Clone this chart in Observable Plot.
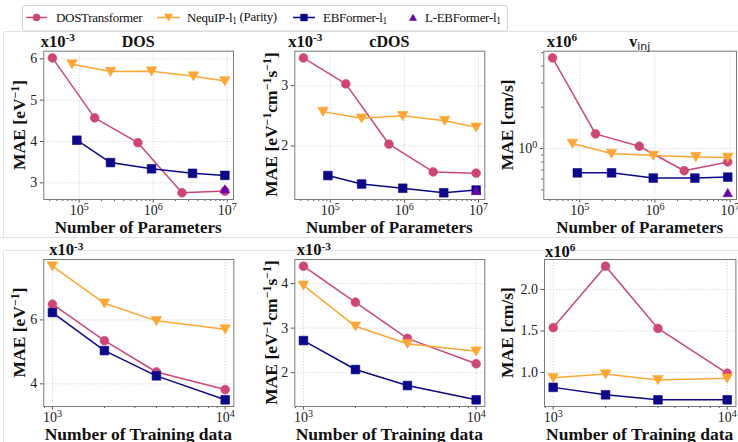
<!DOCTYPE html>
<html><head><meta charset="utf-8">
<script src="https://cdn.jsdelivr.net/npm/d3@7"></script>
<script src="https://cdn.jsdelivr.net/npm/@observablehq/plot@0.6"></script>
<style>
body{margin:0;background:#fff;}
#root{position:relative;width:738px;height:442px;overflow:hidden;font-family:"Liberation Serif",serif;background:#fff;}
#root svg{overflow:visible;}
</style></head><body><div id="root"></div>
<script>
// ---------- data ----------
const seriesNames = ["DOSTransformer", "NequIP-l", "EBFormer-l", "L-EBFormer-l"];
const seriesColors = ["#cc4778", "#fca636", "#0d0887", "#6a00a8"];

// number of parameters (top row x values)
const paramsDOST   = [4.35e4, 1.62e5, 6.2e5, 2.45e6, 9.3e6];
const paramsNequIP = [8.0e4, 2.65e5, 9.5e5, 3.5e6, 9.3e6];
const paramsEB     = [9.3e4, 2.65e5, 9.5e5, 3.4e6, 9.3e6];
const paramsLEB    = [9.3e6];
// number of training data (bottom row x values)
const trainSizes   = [1000, 2000, 4000, 10000];

// DOS (x1e-3 eV^-1) vs parameters
const dosParDOST   = [6.02, 4.57, 3.97, 2.76, 2.80];
const dosParNequIP = [5.87, 5.69, 5.70, 5.58, 5.46];
const dosParEB     = [4.03, 3.49, 3.34, 3.23, 3.18];
const dosParLEB    = [2.85];
// cDOS (x1e-3) vs parameters
const cdosParDOST   = [3.46, 3.03, 2.03, 1.57, 1.55];
const cdosParNequIP = [2.57, 2.46, 2.50, 2.42, 2.31];
const cdosParEB     = [1.51, 1.37, 1.30, 1.225, 1.27];
const cdosParLEB    = [1.26];
// v_inj (x1e6 cm/s) vs parameters
const vinjParDOST   = [4.57, 1.28, 1.04, 0.69, 0.80];
const vinjParNequIP = [1.09, 0.92, 0.89, 0.87, 0.86];
const vinjParEB     = [0.666, 0.666, 0.61, 0.61, 0.62];
const vinjParLEB    = [0.477];

// vs training data
const dosTrDOST    = [6.49, 5.35, 4.37, 3.82];
const dosTrNequIP  = [7.68, 6.52, 5.97, 5.71];
const dosTrEB      = [6.23, 5.04, 4.25, 3.50];
const cdosTrDOST   = [4.39, 3.58, 2.77, 2.20];
const cdosTrNequIP = [3.96, 3.04, 2.65, 2.48];
const cdosTrEB     = [2.72, 2.07, 1.71, 1.39];
const vinjTrDOST   = [1.54, 2.28, 1.53, 0.99];
const vinjTrNequIP = [0.935, 0.98, 0.91, 0.93];
const vinjTrEB     = [0.82, 0.73, 0.67, 0.67];

// tick values / labels
const paramTicks = [1e5, 1e6, 1e7];
const trainTicks = [1e3, 1e4];
const dosParYTicks = [3, 4, 5, 6];
const cdosParYTicks = [2, 3];
const vinjParYTicks = [1];
const vinjParYMinor = [0.5, 0.6, 0.7, 0.8, 0.9, 2, 3, 4, 5];
const dosTrYTicks = [4, 6];
const cdosTrYTicks = [2, 3, 4];
const vinjTrYTicks = [1.0, 1.5, 2.0];

// ---------- symbols ----------
const triDown = {draw(ctx, size){const a=Math.sqrt(size/Math.PI);ctx.moveTo(0,a);ctx.lineTo(-a*1.1,-a*0.9);ctx.lineTo(a*1.1,-a*0.9);ctx.closePath();}};
const triUp = {draw(ctx, size){const a=Math.sqrt(size/Math.PI);ctx.moveTo(0,-a);ctx.lineTo(-a*1.1,a*0.9);ctx.lineTo(a*1.1,a*0.9);ctx.closePath();}};
const symbols = ["circle", triDown, "square", triUp];
const radii = [4.4, 4.8, 4.9, 4.3];

const root = document.getElementById("root");

function minorLogTicks(domain){
  const out = [];
  const lo = Math.floor(Math.log10(domain[0])), hi = Math.ceil(Math.log10(domain[1]));
  for (let e = lo; e <= hi; e++) for (let m = 2; m <= 9; m++) {
    const v = m * Math.pow(10, e);
    if (v >= domain[0] && v <= domain[1]) out.push(v);
  }
  return out;
}
function padDomain(vals, log){
  let lo = d3.min(vals), hi = d3.max(vals);
  if (log) { lo = Math.log10(lo); hi = Math.log10(hi); }
  const m = (hi - lo) * 0.05;
  lo -= m; hi += m;
  return log ? [Math.pow(10, lo), Math.pow(10, hi)] : [lo, hi];
}
function supify(svg){
  d3.select(svg).selectAll("text").each(function(){
    const s = this.textContent, i = s.indexOf("^");
    if (i < 0) return;
    const el = d3.select(this);
    el.text(null);
    el.append("tspan").text(s.slice(0, i));
    el.append("tspan").attr("dy", "-0.5em").attr("font-size", "0.72em").text(s.slice(i + 1));
  });
}

function panel(cfg){
  const xs = cfg.series.flatMap(s => s.x);
  const ys = cfg.series.flatMap(s => s.y);
  const xDomain = padDomain(xs, true);
  const yDomain = padDomain(ys, cfg.yLog);
  const marks = [
    Plot.gridX(cfg.xTicks, {stroke: "#d2d2d2", strokeOpacity: 1, strokeDasharray: "1.5,1.5", strokeWidth: 0.8}),
    Plot.gridY(cfg.yTicks, {stroke: "#d2d2d2", strokeOpacity: 1, strokeDasharray: "1.5,1.5", strokeWidth: 0.8}),
    Plot.axisX(minorLogTicks(xDomain), {tickSize: 2, tickFormat: () => "", label: null, stroke: "#555"}),
    Plot.axisX(cfg.xTicks, {tickSize: 3.5, tickPadding: 2, label: null, stroke: "#555", fontSize: 14,
      tickFormat: d => "10^" + Math.round(Math.log10(d))}),
    Plot.axisY(cfg.yTicks, {tickSize: 3.5, tickPadding: 3, label: null, stroke: "#555", fontSize: 14,
      tickFormat: cfg.yFormat})
  ];
  if (cfg.yMinor) marks.push(Plot.axisY(cfg.yMinor, {tickSize: 2, tickFormat: () => "", label: null, stroke: "#555"}));
  cfg.series.forEach(s => {
    const data = s.x.map((x, i) => ({x, y: s.y[i]}));
    const c = seriesColors[s.k];
    if (data.length > 1) marks.push(Plot.line(data, {x: "x", y: "y", stroke: c, strokeWidth: 1.5}));
    marks.push(Plot.dot(data, {x: "x", y: "y", fill: c, stroke: c, strokeWidth: 0.6, r: radii[s.k], symbol: symbols[s.k]}));
  });
  marks.push(Plot.frame({stroke: "#7a7a7a", strokeWidth: 1}));
  const svg = Plot.plot({
    width: cfg.width, height: cfg.height,
    marginTop: cfg.mt, marginBottom: cfg.mb, marginLeft: cfg.ml, marginRight: cfg.mr,
    x: {type: "log", domain: xDomain},
    y: {type: cfg.yLog ? "log" : "linear", domain: yDomain},
    style: {fontFamily: "'Liberation Serif', serif", fontSize: "14px", color: "#222", background: "transparent", overflow: "visible"},
    marks
  });
  supify(svg);
  svg.style.position = "absolute";
  svg.style.left = cfg.left + "px";
  svg.style.top = cfg.top + "px";
  root.appendChild(svg);
}

const fmtInt = d3.format("d");
const fmt1 = d3.format(".1f");

// top row
panel({left: 0, top: 34, width: 246, height: 206, mt: 16.7, mb: 41, ml: 43.3, mr: 13,
  xTicks: paramTicks, yTicks: dosParYTicks, yFormat: fmtInt,
  series: [{k:0, x: paramsDOST, y: dosParDOST}, {k:1, x: paramsNequIP, y: dosParNequIP}, {k:2, x: paramsEB, y: dosParEB}, {k:3, x: paramsLEB, y: dosParLEB}]});
panel({left: 246, top: 34, width: 246, height: 206, mt: 16.7, mb: 41, ml: 48.3, mr: 7.7,
  xTicks: paramTicks, yTicks: cdosParYTicks, yFormat: fmtInt,
  series: [{k:0, x: paramsDOST, y: cdosParDOST}, {k:1, x: paramsNequIP, y: cdosParNequIP}, {k:2, x: paramsEB, y: cdosParEB}, {k:3, x: paramsLEB, y: cdosParLEB}]});
panel({left: 492, top: 34, width: 246, height: 206, mt: 16.7, mb: 41, ml: 51.3, mr: 2,
  xTicks: paramTicks, yTicks: vinjParYTicks, yMinor: vinjParYMinor, yLog: true, yFormat: d => "10^0",
  series: [{k:0, x: paramsDOST, y: vinjParDOST}, {k:1, x: paramsNequIP, y: vinjParNequIP}, {k:2, x: paramsEB, y: vinjParEB}, {k:3, x: paramsLEB, y: vinjParLEB}]});
// bottom row
panel({left: 0, top: 241, width: 246, height: 201, mt: 18, mb: 36, ml: 43.3, mr: 12.7,
  xTicks: trainTicks, yTicks: dosTrYTicks, yFormat: fmtInt,
  series: [{k:0, x: trainSizes, y: dosTrDOST}, {k:1, x: trainSizes, y: dosTrNequIP}, {k:2, x: trainSizes, y: dosTrEB}]});
panel({left: 246, top: 241, width: 246, height: 201, mt: 18, mb: 36, ml: 48.3, mr: 7.7,
  xTicks: trainTicks, yTicks: cdosTrYTicks, yFormat: fmtInt,
  series: [{k:0, x: trainSizes, y: cdosTrDOST}, {k:1, x: trainSizes, y: cdosTrNequIP}, {k:2, x: trainSizes, y: cdosTrEB}]});
panel({left: 492, top: 241, width: 246, height: 201, mt: 18, mb: 36, ml: 52, mr: 2.6,
  xTicks: trainTicks, yTicks: vinjTrYTicks, yFormat: fmt1,
  series: [{k:0, x: trainSizes, y: vinjTrDOST}, {k:1, x: trainSizes, y: vinjTrNequIP}, {k:2, x: trainSizes, y: vinjTrEB}]});

// ---------- overlay: texts, legend, panel borders ----------
const ov = d3.select(root).append("svg").attr("width", 738).attr("height", 442)
  .style("position", "absolute").style("left", "0px").style("top", "0px").style("pointer-events", "none")
  .attr("font-family", "'Liberation Serif', serif").attr("fill", "#111");

// faint sub-figure borders
ov.append("path").attr("d", "M3.5,31.5H738 M3.5,31.5V237 M0,237.5H738 M3.5,250.5H738 M3.5,250.5V442")
  .attr("stroke", "#e2e2e2").attr("fill", "none");

function sup(x, y, base, s, size){
  const t = ov.append("text").attr("x", x).attr("y", y).attr("font-size", size).attr("font-weight", "bold");
  t.append("tspan").text(base);
  t.append("tspan").attr("dy", "-0.45em").attr("font-size", "0.68em").text(s);
  return t;
}
// offset labels
const offsetNeg3 = "-3", offset6 = "6";
sup(40.7, 46.5, "x10", offsetNeg3, 16.5);
sup(288.3, 46.5, "x10", offsetNeg3, 16.5);
sup(546.7, 46.5, "x10", offset6, 16.5);
sup(49.3, 255, "x10", offsetNeg3, 16.5);
sup(296.7, 255, "x10", offsetNeg3, 16.5);
sup(545, 256.5, "x10", offset6, 16.5);
// titles
const titles = ["DOS", "cDOS"];
[[138.2, titles[0]], [389.3, titles[1]]].forEach(([x, s]) =>
  ov.append("text").attr("x", x).attr("y", 46.5).attr("text-anchor", "middle").attr("font-size", 16).attr("font-weight", "bold").text(s));
{
  const t = ov.append("text").attr("x", 639.7).attr("y", 46.5).attr("text-anchor", "middle").attr("font-size", 16).attr("font-weight", "bold");
  t.append("tspan").text("v");
  t.append("tspan").attr("dy", "0.3em").attr("font-size", 11).attr("font-weight", "normal").attr("font-family", "'DejaVu Sans', sans-serif").text("inj");
}
// x labels
const xLabelTop = "Number of Parameters", xLabelBottom = "Number of Training data";
[138.2, 389.3, 639.7].forEach(x => ov.append("text").attr("x", x).attr("y", 233).attr("text-anchor", "middle").attr("font-size", 17).attr("font-weight", "bold").text(xLabelTop));
[138.3, 389.3, 639.7].forEach(x => ov.append("text").attr("x", x).attr("y", 440).attr("text-anchor", "middle").attr("font-size", 17.5).attr("font-weight", "bold").text(xLabelBottom));
// y labels
function yLabel(xb, yc, parts){
  const t = ov.append("text").attr("transform", `translate(${xb},${yc}) rotate(-90)`).attr("text-anchor", "middle")
    .attr("font-size", 17.5).attr("font-weight", "bold");
  let raised = false;
  parts.forEach(([s, isSup]) => {
    if (isSup) { t.append("tspan").attr("dy", "-0.5em").attr("font-size", "0.68em").text(s); raised = true; }
    else { const sp = t.append("tspan").text(s); if (raised) { sp.attr("dy", "0.34em"); raised = false; } }
  });
}
const dosUnit = [["MAE [eV"], ["−1", true], ["]"]];
const cdosUnit = [["MAE [eV"], ["−1", true], ["cm"], ["−1", true], ["s"], ["−1", true], ["]"]];
const vinjUnit = [["MAE [cm/s]"]];
yLabel(25, 124.9, dosUnit);
yLabel(276.5, 124.5, cdosUnit);
yLabel(513, 124.9, vinjUnit);
yLabel(25, 332.5, dosUnit);
yLabel(276.5, 332.5, cdosUnit);
yLabel(513, 332.5, vinjUnit);

// legend
const lg = ov.append("g");
lg.append("rect").attr("x", 22.5).attr("y", 5.5).attr("width", 485).attr("height", 25.5).attr("rx", 3)
  .attr("fill", "#fff").attr("stroke", "#d4d4d4");
const legendItems = [
  {k: 0, x0: 26, x1: 47, tx: 56},
  {k: 1, x0: 157, x1: 180, tx: 187},
  {k: 2, x0: 293, x1: 315, tx: 323},
  {k: 3, x0: null, x1: null, mx: 413, tx: 425}
];
function symbolDraw(k, p){
  const s = symbols[k], r = radii[k] * 0.85;
  const size = Math.PI * r * r;
  if (s === "circle") { p.arc(0, 0, r, 0, 2 * Math.PI); }
  else if (s === "square") { const h = Math.sqrt(size) / 2; p.rect(-h, -h, 2 * h, 2 * h); }
  else s.draw(p, size);
}
legendItems.forEach(it => {
  const c = seriesColors[it.k];
  const cx = it.x0 != null ? (it.x0 + it.x1) / 2 : it.mx;
  if (it.x0 != null) lg.append("line").attr("x1", it.x0).attr("x2", it.x1).attr("y1", 17.5).attr("y2", 17.5).attr("stroke", c).attr("stroke-width", 1.5);
  const p = d3.path(); symbolDraw(it.k, p);
  lg.append("path").attr("d", p.toString()).attr("transform", `translate(${cx},17.5)`).attr("fill", c);
  const t = lg.append("text").attr("x", it.tx).attr("y", 22).attr("font-size", 13).attr("letter-spacing", "-0.3");
  const name = seriesNames[it.k];
  if (it.k === 0) t.text(name);
  else {
    t.append("tspan").text(name);
    t.append("tspan").attr("dy", "0.25em").attr("font-size", "0.72em").text("1");
    if (it.k === 1) t.append("tspan").attr("dy", "-0.25em").text(" (Parity)");
  }
});
</script></body></html>
